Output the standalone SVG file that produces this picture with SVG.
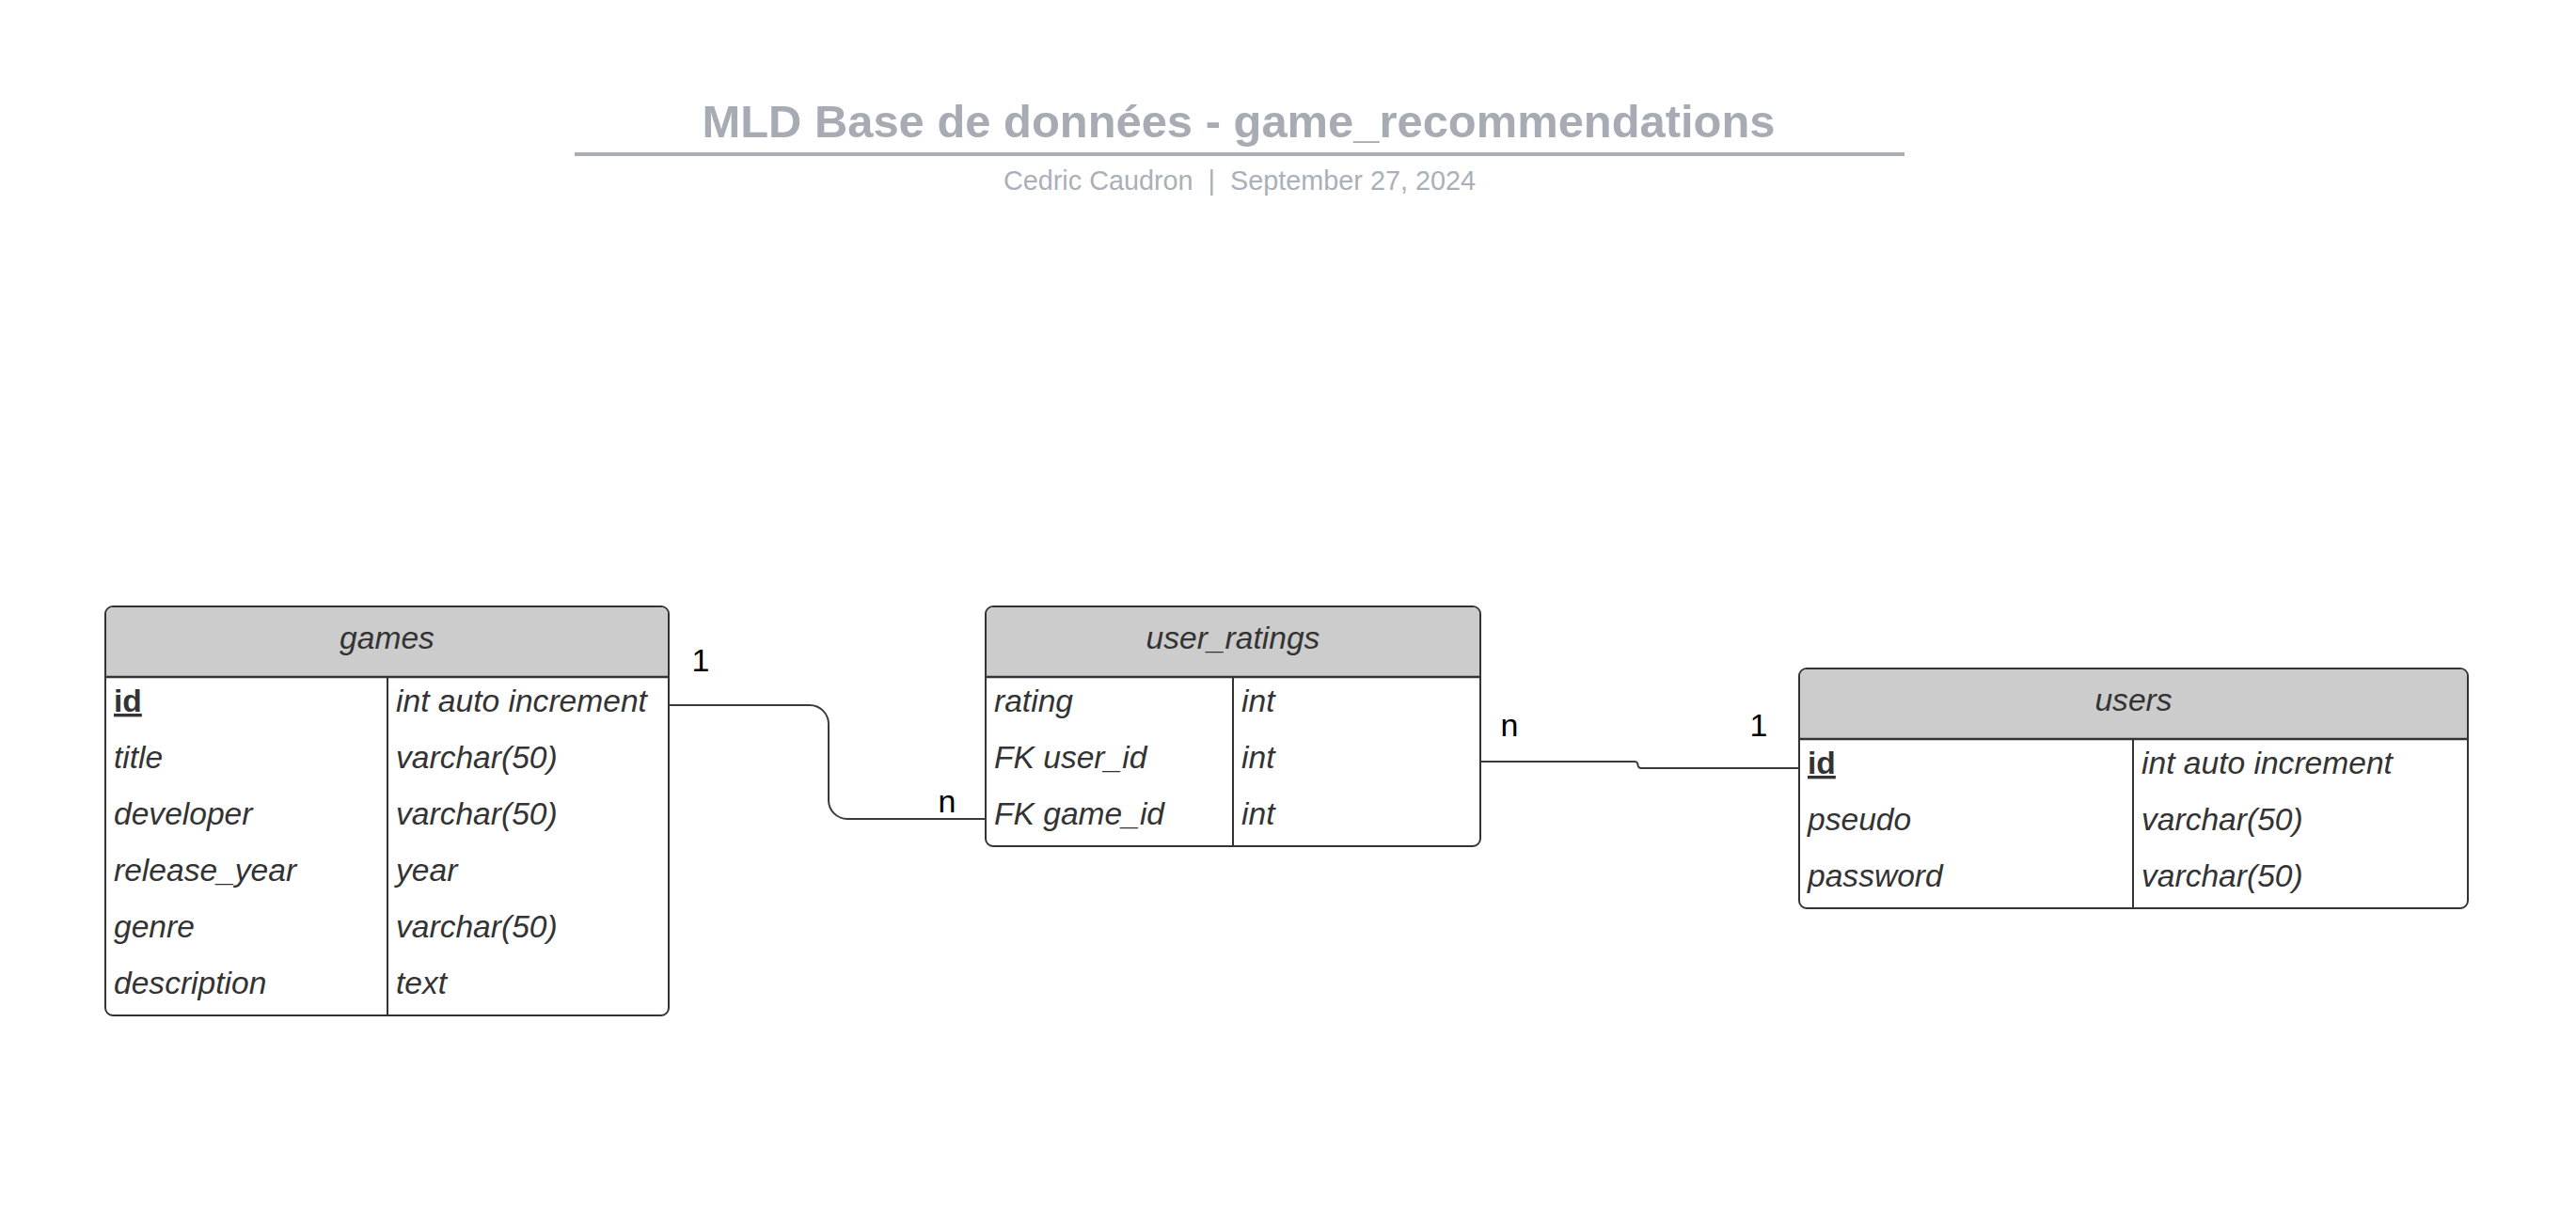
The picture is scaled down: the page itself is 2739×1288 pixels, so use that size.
<svg xmlns="http://www.w3.org/2000/svg" width="2739" height="1288" viewBox="0 0 2739 1288">
<style>
.title{font-family:"Liberation Sans",Arial,sans-serif;font-weight:bold;font-size:48.9px;fill:#a7acb4;text-anchor:middle}
.sub{font-family:"Liberation Sans",Arial,sans-serif;font-size:28.8px;fill:#aab0b8;text-anchor:middle}
.box{fill:#ffffff;stroke:#333333;stroke-width:2}
.hdr{fill:#cccccc}
.sep{stroke:#333333;stroke-width:2.5;fill:none}
.div{stroke:#333333;stroke-width:2;fill:none}
.hd{font-family:"Liberation Sans",Arial,sans-serif;font-style:italic;font-size:33.6px;fill:#333333;text-anchor:middle}
.f{font-family:"Liberation Sans",Arial,sans-serif;font-style:italic;font-size:33.6px;fill:#333333}
.pk{font-family:"Liberation Sans",Arial,sans-serif;font-weight:bold;font-size:33.6px;fill:#333333;text-decoration:underline}
.conn{fill:none;stroke:#3a3a3a;stroke-width:2}
.lbl{font-family:"Liberation Sans",Arial,sans-serif;font-size:34px;fill:#000000;text-anchor:middle}
</style>
<g id="header">
<text class="title" x="1317" y="146">MLD Base de données - game_recommendations</text>
<line x1="611" y1="164" x2="2025" y2="164" stroke="#a9aeb4" stroke-width="4"/>
<text class="sub" x="1318" y="202" xml:space="preserve">Cedric Caudron  |  September 27, 2024</text>
</g>
<g id="games">
<rect class="box" x="112" y="645" width="599" height="435" rx="8"/>
<path class="hdr" d="M120,646 H703 A7,7 0 0 1 710,653 V719 H113 V653 A7,7 0 0 1 120,646 Z"/>
<line class="sep" x1="112" y1="720" x2="711" y2="720"/>
<line class="div" x1="412" y1="720" x2="412" y2="1080"/>
<text class="hd" x="411.5" y="690">games</text>
<text class="pk" x="121" y="757">id</text>
<text class="f" x="121" y="817">title</text>
<text class="f" x="121" y="877">developer</text>
<text class="f" x="121" y="937">release_year</text>
<text class="f" x="121" y="997">genre</text>
<text class="f" x="121" y="1057">description</text>
<text class="f" x="421" y="757">int auto increment</text>
<text class="f" x="421" y="817">varchar(50)</text>
<text class="f" x="421" y="877">varchar(50)</text>
<text class="f" x="421" y="937">year</text>
<text class="f" x="421" y="997">varchar(50)</text>
<text class="f" x="421" y="1057">text</text>
</g>
<g id="user_ratings">
<rect class="box" x="1048" y="645" width="526" height="255" rx="8"/>
<path class="hdr" d="M1056,646 H1566 A7,7 0 0 1 1573,653 V719 H1049 V653 A7,7 0 0 1 1056,646 Z"/>
<line class="sep" x1="1048" y1="720" x2="1574" y2="720"/>
<line class="div" x1="1311" y1="720" x2="1311" y2="900"/>
<text class="hd" x="1311" y="690">user_ratings</text>
<text class="f" x="1057" y="757">rating</text>
<text class="f" x="1057" y="817">FK user_id</text>
<text class="f" x="1057" y="877">FK game_id</text>
<text class="f" x="1320" y="757">int</text>
<text class="f" x="1320" y="817">int</text>
<text class="f" x="1320" y="877">int</text>
</g>
<g id="users">
<rect class="box" x="1913" y="711" width="711" height="255" rx="8"/>
<path class="hdr" d="M1921,712 H2616 A7,7 0 0 1 2623,719 V785 H1914 V719 A7,7 0 0 1 1921,712 Z"/>
<line class="sep" x1="1913" y1="786" x2="2624" y2="786"/>
<line class="div" x1="2268" y1="786" x2="2268" y2="966"/>
<text class="hd" x="2268.5" y="756">users</text>
<text class="pk" x="1922" y="823">id</text>
<text class="f" x="1922" y="883">pseudo</text>
<text class="f" x="1922" y="943">password</text>
<text class="f" x="2277" y="823">int auto increment</text>
<text class="f" x="2277" y="883">varchar(50)</text>
<text class="f" x="2277" y="943">varchar(50)</text>
</g>
<g id="connectors">
<path class="conn" d="M711,750 H861 A20,20 0 0 1 881,770 V851 A20,20 0 0 0 901,871 H1048"/>
<path class="conn" d="M1574,810 H1738 A3.5,3.5 0 0 1 1741.5,813.5 A3.5,3.5 0 0 0 1745,817 H1913"/>
<text class="lbl" x="745" y="714">1</text>
<text class="lbl" x="1007" y="864">n</text>
<text class="lbl" x="1605" y="783">n</text>
<text class="lbl" x="1870" y="783">1</text>
</g>
</svg>
